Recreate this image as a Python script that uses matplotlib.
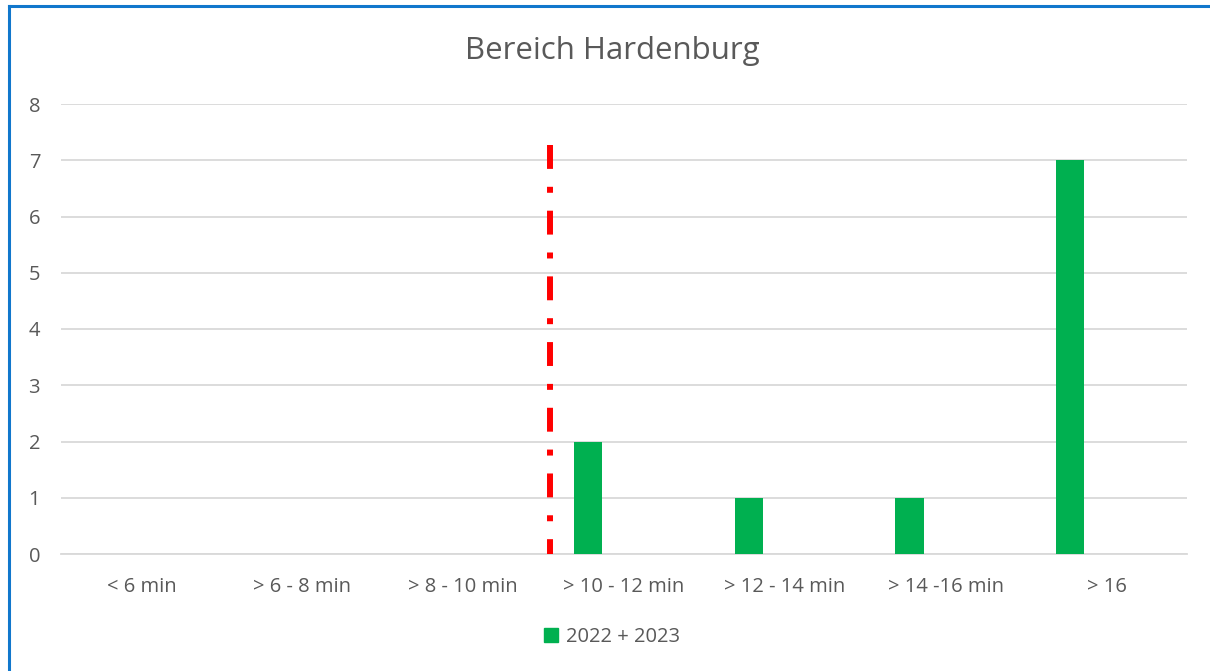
import matplotlib
matplotlib.use("Agg")
import matplotlib.pyplot as plt
from matplotlib.patches import Rectangle
from matplotlib.lines import Line2D

categories = ["< 6 min", "> 6 - 8 min", "> 8 - 10 min", "> 10 - 12 min",
              "> 12 - 14 min", "> 14 -16 min", "> 16"]
values = [0, 0, 0, 2, 1, 1, 7]
series_label = "2022 + 2023"
title = "Bereich Hardenburg"
limit_x = 2.54
limit_top = 7.27

plt.rcParams['font.family'] = ['Open Sans', 'DejaVu Sans']
txt = '#595959'
grid = '#D9D9D9'
green = '#00B050'

fig = plt.figure(figsize=(12.10, 6.71), dpi=100)
ax = fig.add_axes([61/1210, 1-554/671, (1187-61)/1210, 450/671])

x = list(range(len(categories)))
ax.bar([i - 0.225 for i in x], values, width=0.175, color=green, zorder=3,
       label=series_label)
ax.plot([limit_x, limit_x], [limit_top, 0], color='#FF0000', lw=4.3,
        dashes=(4, 3, 1, 3), solid_capstyle='butt', dash_capstyle='butt', zorder=4)

ax.set_xlim(-0.5, 6.5)
ax.set_ylim(0, 8)
ax.set_yticks(range(0, 9))
ax.set_xticks(x)
ax.set_xticklabels(categories)
ax.yaxis.grid(True, color=grid, lw=1.3, zorder=0)
for s in ['top', 'right', 'left']:
    ax.spines[s].set_visible(False)
ax.spines['bottom'].set_color(grid)
ax.spines['bottom'].set_linewidth(1.3)
ax.tick_params(axis='both', length=0, labelsize=14.5, colors=txt)
ax.tick_params(axis='x', pad=16.5)
ax.tick_params(axis='y', pad=15)

fig.text(612/1210, 1-51/671, title, ha='center', va='center', fontsize=22.5, color=txt)

handle = Rectangle((0, 0), 1, 1, color=green)
fig.legend([handle], [series_label], loc='center', bbox_to_anchor=(612/1210, 1-637/671),
           frameon=False, fontsize=14.5, labelcolor=txt, handlelength=0.7, handleheight=0.7,
           handletextpad=0.4)

# blue border
fig.add_artist(Line2D([9/1210, 9/1210], [0, 1-6/671], color='#1177CC', lw=2.2))
fig.add_artist(Line2D([9/1210, 1], [1-6/671, 1-6/671], color='#1177CC', lw=2.2))

fig.savefig("out.png", dpi=100)
